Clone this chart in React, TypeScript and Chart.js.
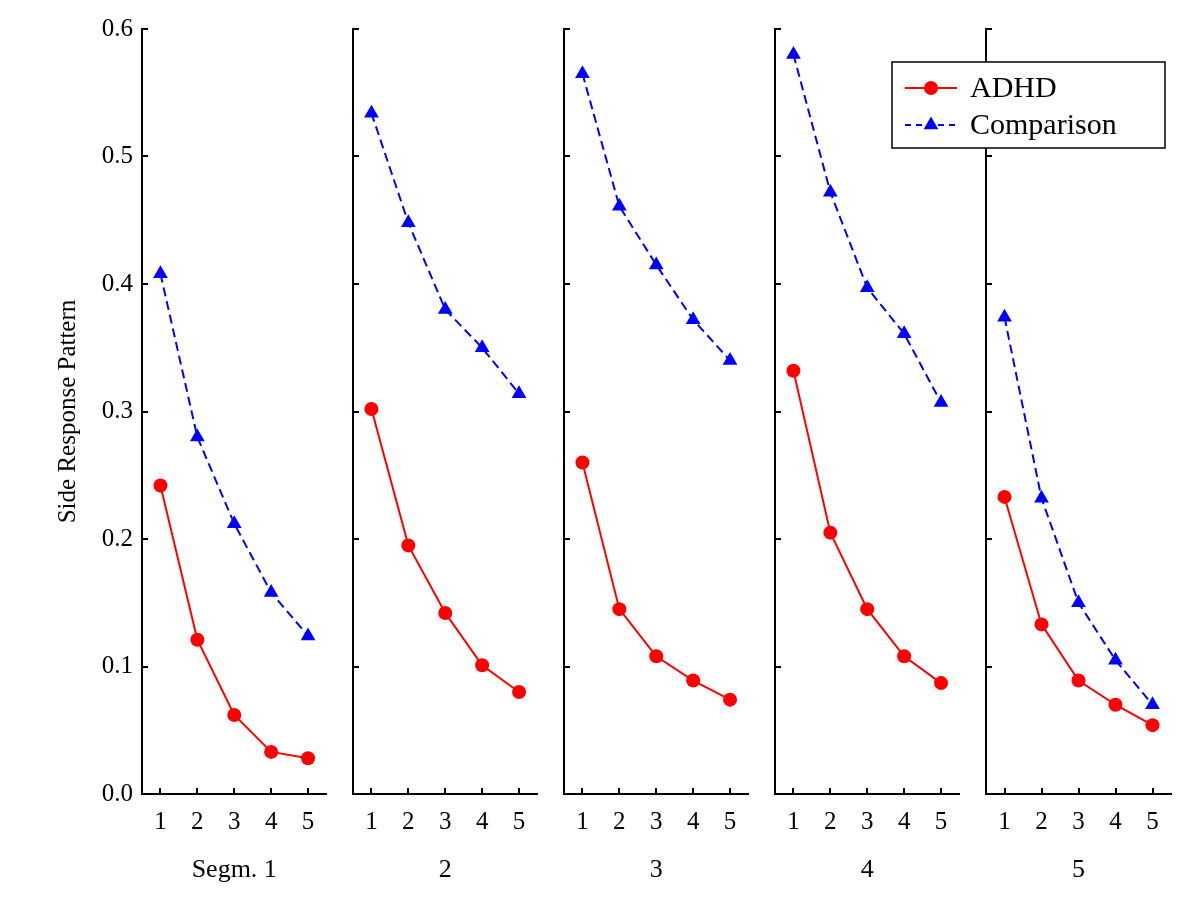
import React, { useEffect, useRef } from 'react';
import { Chart, registerables } from 'chart.js';
import { drawPoint } from 'chart.js/helpers';

Chart.register(...registerables);

// ---- data ----
const trials = ['1', '2', '3', '4', '5'];
const segmentTitles = ['Segm. 1', '2', '3', '4', '5'];
const yTickValues = [0, 0.1, 0.2, 0.3, 0.4, 0.5, 0.6];

const adhdSeg1 = [0.242, 0.121, 0.062, 0.033, 0.028];
const adhdSeg2 = [0.302, 0.195, 0.142, 0.101, 0.08];
const adhdSeg3 = [0.26, 0.145, 0.108, 0.089, 0.074];
const adhdSeg4 = [0.332, 0.205, 0.145, 0.108, 0.087];
const adhdSeg5 = [0.233, 0.133, 0.089, 0.07, 0.054];

const compSeg1 = [0.408, 0.28, 0.212, 0.158, 0.124];
const compSeg2 = [0.534, 0.448, 0.38, 0.35, 0.314];
const compSeg3 = [0.565, 0.461, 0.415, 0.372, 0.34];
const compSeg4 = [0.58, 0.472, 0.397, 0.361, 0.307];
const compSeg5 = [0.374, 0.232, 0.15, 0.105, 0.07];

const adhdBySeg = [adhdSeg1, adhdSeg2, adhdSeg3, adhdSeg4, adhdSeg5];
const compBySeg = [compSeg1, compSeg2, compSeg3, compSeg4, compSeg5];

// ---- layout ----
const AXIS_LEFT = [142, 353, 564, 775, 986];
const PLOT_W = 185;
const PAGE_H = 919;
const PLOT_TOP = 29;
const PLOT_BOTTOM = 794;
const FONT = "'Liberation Serif', 'Times New Roman', serif";

Chart.defaults.font.family = FONT;
Chart.defaults.color = '#000';

// tick marks pointing into the plot area
const inwardTicks = {
  id: 'inwardTicks',
  afterDraw(chart: any) {
    const { ctx, chartArea, scales } = chart;
    const len = 6;
    ctx.save();
    ctx.strokeStyle = '#000';
    ctx.lineWidth = 2;
    ctx.setLineDash([]);
    ctx.beginPath();
    const xs = scales.x;
    xs.ticks.forEach((_t: any, i: number) => {
      const px = Math.round(xs.getPixelForTick(i));
      ctx.moveTo(px, chartArea.bottom);
      ctx.lineTo(px, chartArea.bottom - len);
    });
    const ys = scales.y;
    ys.ticks.forEach((t: any) => {
      const py = Math.round(ys.getPixelForValue(t.value));
      ctx.moveTo(chartArea.left, py);
      ctx.lineTo(chartArea.left + len, py);
    });
    ctx.stroke();
    ctx.restore();
  },
};

const boxLegend = {
  id: 'boxLegend',
  afterDraw(chart: any, _args: any, opts: any) {
    if (!opts || !opts.display) return;
    const { ctx, chartArea } = chart;
    const w = 273;
    const h = 86;
    const left = chartArea.right - 6 - w;
    const top = chartArea.top + 33;
    ctx.save();
    ctx.fillStyle = '#fff';
    ctx.fillRect(left, top, w, h);
    ctx.strokeStyle = '#000';
    ctx.lineWidth = 1.5;
    ctx.setLineDash([]);
    ctx.strokeRect(left, top, w, h);
    chart.data.datasets.forEach((ds: any, k: number) => {
      const cy = top + 26 + k * 37;
      ctx.save();
      ctx.strokeStyle = ds.borderColor;
      ctx.lineWidth = ds.borderWidth;
      ctx.setLineDash(ds.borderDash ? [6, 5] : []);
      ctx.beginPath();
      ctx.moveTo(left + 13, cy);
      ctx.lineTo(left + 65, cy);
      ctx.stroke();
      ctx.restore();
      ctx.save();
      ctx.fillStyle = ds.pointBackgroundColor;
      ctx.strokeStyle = ds.pointBackgroundColor;
      ctx.setLineDash([]);
      drawPoint(ctx, { pointStyle: ds.pointStyle, radius: ds.pointRadius, borderWidth: 0, rotation: 0 } as any, left + 39, cy);
      ctx.restore();
      ctx.fillStyle = '#000';
      ctx.font = `30px ${FONT}`;
      ctx.textAlign = 'left';
      ctx.textBaseline = 'middle';
      ctx.fillText(ds.label, left + 78, cy + 1);
    });
    ctx.restore();
  },
};

function Panel({ index }: { index: number }) {
  const ref = useRef<HTMLCanvasElement>(null);
  const isFirst = index === 0;
  const isLast = index === 4;
  const canvasLeft = isFirst ? 0 : isLast ? 880 : AXIS_LEFT[index] - 12;
  const yWidth = AXIS_LEFT[index] - canvasLeft;
  const rightPad = isLast ? 1200 - (AXIS_LEFT[index] + PLOT_W) : 8;
  const canvasW = yWidth + PLOT_W + rightPad;

  useEffect(() => {
    if (!ref.current) return;
    const chart = new Chart(ref.current, {
      type: 'line',
      data: {
        labels: trials,
        datasets: [
          {
            label: 'ADHD',
            data: adhdBySeg[index],
            borderColor: '#ff0000',
            backgroundColor: '#ff0000',
            borderWidth: 2,
            pointStyle: 'circle',
            pointRadius: 7,
            pointBackgroundColor: '#ff0000',
            pointBorderWidth: 0,
            tension: 0,
          },
          {
            label: 'Comparison',
            data: compBySeg[index],
            borderColor: '#0000ff',
            backgroundColor: '#0000ff',
            borderWidth: 2,
            borderDash: [9, 5],
            pointStyle: 'triangle',
            pointRadius: 8.5,
            pointBackgroundColor: '#0000ff',
            pointBorderWidth: 0,
            tension: 0,
          },
        ],
      },
      options: {
        responsive: false,
        maintainAspectRatio: false,
        animation: false,
        devicePixelRatio: 1,
        layout: { padding: { top: PLOT_TOP, left: 0, right: rightPad, bottom: 0 } },
        plugins: {
          legend: { display: false },
          tooltip: { enabled: false },
          boxLegend: { display: isLast },
        } as any,
        scales: {
          x: {
            type: 'category',
            offset: true,
            grid: { offset: false, display: false, drawOnChartArea: false, drawTicks: false },
            border: { display: true, color: '#000', width: 2 },
            ticks: { font: { size: 25 }, color: '#000', padding: 13, maxRotation: 0, autoSkip: false },
            title: {
              display: true,
              text: segmentTitles[index],
              font: { size: 26 },
              color: '#000',
              padding: { top: 0, bottom: 33 },
            },
            afterFit: (s: any) => {
              s.height = PAGE_H - PLOT_BOTTOM;
            },
          },
          y: {
            type: 'linear',
            min: 0,
            max: 0.6,
            afterBuildTicks: (s: any) => {
              s.ticks = yTickValues.map((v) => ({ value: v }));
            },
            grid: { display: false, drawOnChartArea: false, drawTicks: false },
            border: { display: true, color: '#000', width: 2 },
            ticks: {
              display: isFirst,
              font: { size: 25 },
              color: '#000',
              padding: 9,
              callback: (v: any) => Number(v).toFixed(1),
            },
            title: {
              display: isFirst,
              text: 'Side Response Pattern',
              font: { size: 25 },
              color: '#000',
              padding: { top: 53, bottom: 0 },
            },
            afterFit: (s: any) => {
              s.width = yWidth;
            },
          },
        },
      },
      plugins: [inwardTicks, boxLegend],
    });
    return () => chart.destroy();
  }, [index]);

  return (
    <canvas
      ref={ref}
      width={canvasW}
      height={PAGE_H}
      style={{ position: 'absolute', left: canvasLeft, top: 0, width: canvasW, height: PAGE_H }}
    />
  );
}

export default function App() {
  return (
    <div style={{ position: 'absolute', left: 0, top: 0, width: 1200, height: PAGE_H, background: '#fff' }}>
      {[0, 1, 2, 3, 4].map((i) => (
        <Panel key={i} index={i} />
      ))}
    </div>
  );
}
